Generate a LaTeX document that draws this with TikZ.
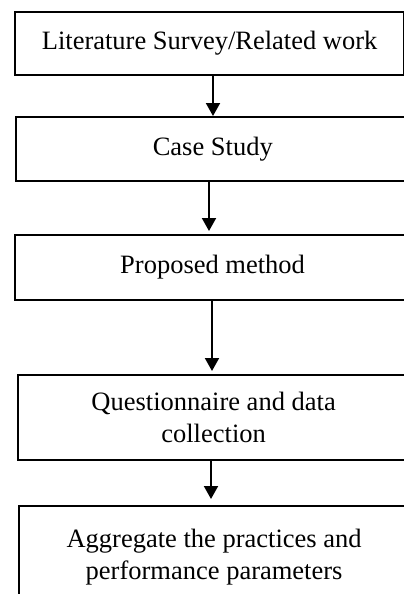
\documentclass[tikz,border=0pt]{standalone}
\usepackage{fontspec}
\setmainfont{Liberation Serif}
\usetikzlibrary{arrows.meta}
\begin{document}
\begin{tikzpicture}[x=1pt,y=-1pt,
  stepbox/.style={draw, line width=2.2pt, inner sep=0pt, align=center,
    anchor=north west, font=\fontsize{26.5}{32.5}\selectfont},
  flow/.style={line width=2pt, -{Triangle[width=14pt,length=13pt]}}]
\useasboundingbox (0,0) rectangle (404,594);
\clip (0,0) rectangle (404,594);
% process steps, top to bottom
\node[stepbox, minimum width=389pt, minimum height=63pt] (lit) at (14,10.7)
  {Literature Survey/Related work};
\node[stepbox, minimum width=394pt, minimum height=64pt] (case) at (14.7,116)
  {Case Study};
\node[stepbox, minimum width=395pt, minimum height=65pt] (prop) at (14,234)
  {Proposed method};
\node[stepbox, minimum width=391pt, minimum height=85pt] (quest) at (17,374)
  {Questionnaire and data\\collection};
\node[stepbox, minimum width=390pt, minimum height=102pt] (aggr) at (18,505)
  {Aggregate the practices and\\performance parameters};
% vertical positions of the connectors
\coordinate (c1) at (213,0);
\coordinate (c2) at (209,0);
\coordinate (c3) at (212,0);
\coordinate (c4) at (211,0);
\draw[flow] (lit.south -| c1) -- (case.north -| c1);
\draw[flow, shorten >=3pt] (case.south -| c2) -- (prop.north -| c2);
\draw[flow, shorten >=3pt] (prop.south -| c3) -- (quest.north -| c3);
\draw[flow, shorten >=6pt] (quest.south -| c4) -- (aggr.north -| c4);
\end{tikzpicture}
\end{document}
